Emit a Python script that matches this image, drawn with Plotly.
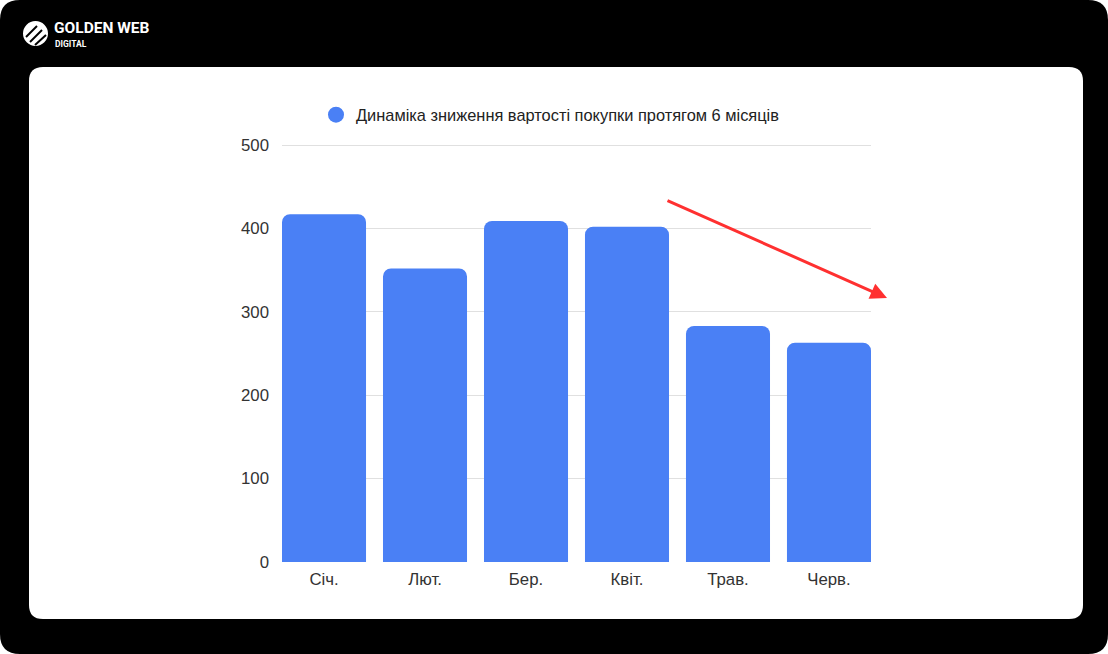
import plotly.graph_objects as go

# ---- data ----
months = ["Січ.", "Лют.", "Бер.", "Квіт.", "Трав.", "Черв."]
values = [417, 352, 409, 402, 283, 263]
series_name = "Динаміка зниження вартості покупки протягом 6 місяців"
y_ticks = [0, 100, 200, 300, 400, 500]

W, H = 1108, 654
L, R, T, B = 282, 871, 143, 562  # plot area in pixels (500 sits at y=145)
Y_MAX = 500 * (B - T) / 417.0

def px(x):
    return (x - L) / (R - L)

def py(y):
    return (B - y) / (B - T)

def rrect(x0, y0, x1, y1, r):
    pts = [
        f"M{px(x0 + r)},{py(y0)}",
        f"L{px(x1 - r)},{py(y0)}",
        f"Q{px(x1)},{py(y0)} {px(x1)},{py(y0 + r)}",
        f"L{px(x1)},{py(y1 - r)}",
        f"Q{px(x1)},{py(y1)} {px(x1 - r)},{py(y1)}",
        f"L{px(x0 + r)},{py(y1)}",
        f"Q{px(x0)},{py(y1)} {px(x0)},{py(y1 - r)}",
        f"L{px(x0)},{py(y0 + r)}",
        f"Q{px(x0)},{py(y0)} {px(x0 + r)},{py(y0)}",
        "Z",
    ]
    return " ".join(pts)

BLUE = "#4a80f5"
FONT = "Liberation Sans, Arial, sans-serif"
FS = 16.8

fig = go.Figure()
fig.add_trace(go.Bar(x=months, y=values, marker=dict(color=BLUE, line=dict(width=0)),
                     showlegend=False, hoverinfo="x+y"))
fig.add_trace(go.Scatter(x=[None], y=[None], mode="markers", name=series_name,
                         marker=dict(color=BLUE, size=16, symbol="circle"), showlegend=True))

shapes = [
    dict(type="path", xref="paper", yref="paper", path=rrect(0, 0, W, H, 20),
         fillcolor="black", line=dict(width=0), layer="below"),
    dict(type="path", xref="paper", yref="paper", path=rrect(29, 67, 1083, 619, 14),
         fillcolor="white", line=dict(width=0), layer="below"),
    # logo icon
    dict(type="circle", xref="paper", yref="paper",
         x0=px(23), x1=px(48), y0=py(46), y1=py(21),
         fillcolor="white", line=dict(width=0), layer="above"),
]
for (a, b, c, d) in [(26, 37, 37, 26), (30, 42, 42, 30), (35, 45, 46, 35)]:
    shapes.append(dict(type="line", xref="paper", yref="paper",
                       x0=px(a), y0=py(b), x1=px(c), y1=py(d),
                       line=dict(color="black", width=2), layer="above"))

annotations = [
    dict(xref="paper", yref="paper", x=px(887), y=py(298), ax=666 - 887, ay=200 - 298,
         text="", showarrow=True, arrowhead=2, arrowsize=1.1, arrowwidth=3,
         arrowcolor="#ff3030", standoff=0),
    dict(xref="paper", yref="paper", x=px(53), y=py(37.5), text="<b>GOLDEN WEB</b>",
         showarrow=False, xanchor="left", yanchor="bottom", borderpad=0,
         font=dict(family="Roboto, sans-serif", size=15.5, color="white")),
    dict(xref="paper", yref="paper", x=px(54), y=py(37.5), text="<b>DIGITAL</b>",
         showarrow=False, xanchor="left", yanchor="top", borderpad=0,
         font=dict(family="Roboto, sans-serif", size=8.5, color="white")),
]

fig.update_layout(
    width=W, height=H,
    margin=dict(l=L, r=W - R, t=T, b=H - B, pad=0),
    paper_bgcolor="white", plot_bgcolor="rgba(0,0,0,0)",
    font=dict(family=FONT, size=FS, color="#333"),
    bargap=0.168, barcornerradius=8,
    shapes=shapes, annotations=annotations,
    legend=dict(orientation="h", x=px(316), y=py(115), xanchor="left", yanchor="middle",
                font=dict(family=FONT, size=16.4, color="#222"), bgcolor="rgba(0,0,0,0)"),
    xaxis=dict(type="category", range=[-0.416, 5.416], showgrid=False, zeroline=False,
               showline=False, ticks="", tickfont=dict(family=FONT, size=FS, color="#333"),
               ticklabelstandoff=5),
    yaxis=dict(range=[0, Y_MAX], tickvals=y_ticks, showgrid=True, gridcolor="#e0e0e0",
               gridwidth=1, zeroline=False, showline=False, ticks="",
               tickfont=dict(family=FONT, size=FS, color="#333"), ticklabelstandoff=12),
)

fig.write_html("out.html", config={"displayModeBar": False},
               post_script="document.body.style.margin='0';document.body.style.overflow='hidden';")
